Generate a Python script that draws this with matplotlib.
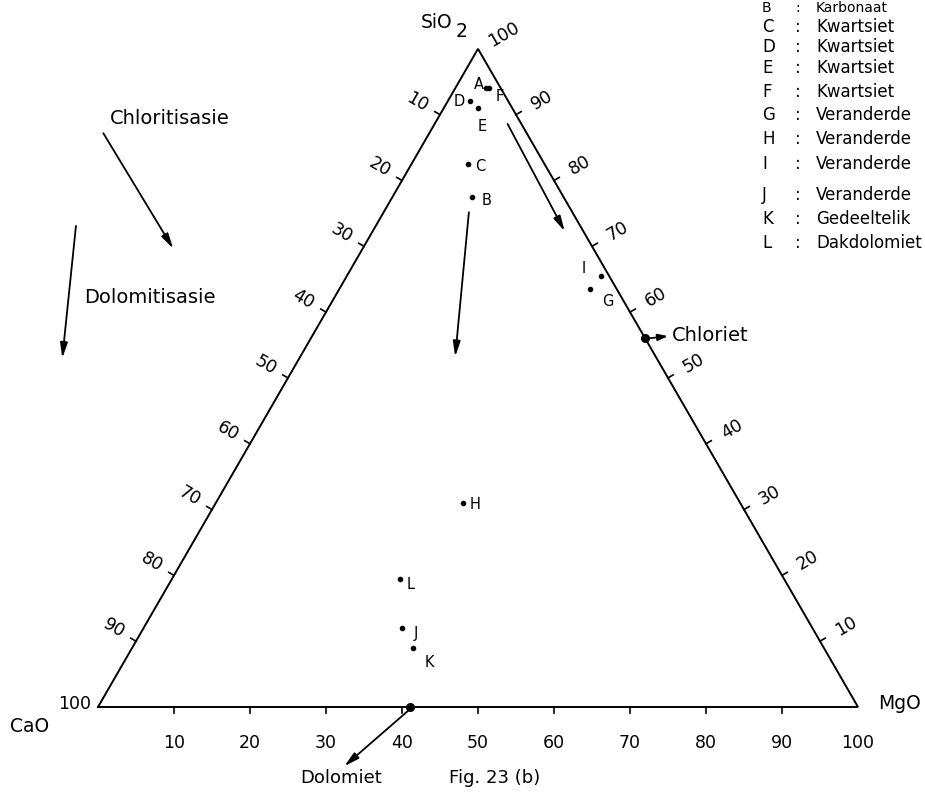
import numpy as np
import matplotlib
matplotlib.use('Agg')
import matplotlib.pyplot as plt

plt.rcParams['font.family'] = ['DejaVu Sans']

# Sample compositions (wt %)
samples = ['A', 'B', 'C', 'D', 'E', 'F', 'G', 'H', 'I', 'J', 'K', 'L']
sio2 = [94, 77.5, 82.5, 92, 91, 94, 63.5, 31, 65.5, 12, 9, 19.5]
cao = [2, 12, 10, 5, 4.5, 1.5, 3.5, 36.5, 1, 54, 54, 50.5]
mgo = [4, 10.5, 7.5, 3, 4.5, 4.5, 33, 32.5, 33.5, 34, 37, 30]

# End members on the edges
end_names = ['Chloriet', 'Dolomiet']
end_sio2 = [56, 0]
end_cao = [0, 59]
end_mgo = [44, 41]

# Legend (top right)
legend_keys = ['B', 'C', 'D', 'E', 'F', 'G', 'H', 'I', 'J', 'K', 'L']
legend_rocks = ['Karbonaat', 'Kwartsiet', 'Kwartsiet', 'Kwartsiet', 'Kwartsiet',
                'Veranderde', 'Veranderde', 'Veranderde', 'Veranderde',
                'Gedeeltelik', 'Dakdolomiet']

tick_values = [10, 20, 30, 40, 50, 60, 70, 80, 90]
scale_labels = ['10', '20', '30', '40', '50', '60', '70', '80', '90', '100']

# label offsets of the sample letters (pixels)
label_offset = {'A': (-7, 4), 'B': (14, -4), 'C': (12, -2), 'D': (-11, 0),
                'E': (4, -18), 'F': (10, -8), 'G': (18, -12), 'H': (12, -2),
                'I': (-18, 7), 'J': (14, -5), 'K': (16, -15), 'L': (11, -6)}

S3 = np.sqrt(3) / 2


def tern(si, ca, mg):
    si, ca, mg = np.asarray(si, float), np.asarray(ca, float), np.asarray(mg, float)
    tot = si + ca + mg
    return (mg + si / 2) / tot * 100, si / tot * 100 * S3


fig = plt.figure(figsize=(9.25, 7.95), dpi=100)
ax = fig.add_axes([0, 0, 1, 1])
ax.set_xlim(-98 / 7.6, (925 - 98) / 7.6)
ax.set_ylim(-88 / 7.6, 707 / 7.6)
ax.axis('off')

# triangle
ax.plot([0, 100, 50, 0], [0, 0, 100 * S3, 0], color='black', lw=1.4, solid_joinstyle='miter')

# ticks and scale labels
tl = 0.8
for v in tick_values:
    # bottom (MgO)
    ax.plot([v, v], [0, -tl], color='black', lw=1.2)
    # left edge (CaO)
    x0, y0 = (100 - v) / 2, (100 - v) * S3
    ax.plot([x0, x0 - S3 * tl], [y0, y0 + 0.5 * tl], color='black', lw=1.2)
    # right edge (SiO2)
    x1, y1 = 100 - v / 2, v * S3
    ax.plot([x1, x1 + S3 * tl], [y1, y1 + 0.5 * tl], color='black', lw=1.2)

for lab in scale_labels:
    v = int(lab)
    ax.text(v, -4.7, lab, ha='center', va='center', fontsize=12.5)
    x1, y1 = 100 - v / 2, v * S3
    ax.text(x1 + S3 * 3.9, y1 + 0.5 * 3.9, lab, ha='center', va='center',
            fontsize=12.5, rotation=30)
    if v < 100:
        x0, y0 = (100 - v) / 2, (100 - v) * S3
        ax.text(x0 - S3 * 3.4, y0 + 0.5 * 3.4, lab, ha='center', va='center',
                fontsize=12.5, rotation=-30)
ax.text(-0.9, 0.4, '100', ha='right', va='center', fontsize=12.5)

# apex / corner names
ax.text(44.5, 90.1, 'SiO', ha='center', va='center', fontsize=13.5)
ax.text(47.8, 88.9, '2', ha='center', va='center', fontsize=13.5)
ax.text(-11.6, -2.6, 'CaO', ha='left', va='center', fontsize=13.5)
ax.text(102.6, 0.5, 'MgO', ha='left', va='center', fontsize=13.5)

# samples
sx, sy = tern(sio2, cao, mgo)
ax.plot(sx, sy, 'o', color='black', ms=3)
for name, x, y in zip(samples, sx, sy):
    ax.annotate(name, (x, y), xytext=label_offset[name], textcoords='offset pixels',
                ha='center', va='center', fontsize=10.5)

# end members
ex, ey = tern(end_sio2, end_cao, end_mgo)
ax.plot(ex, ey, 'o', color='black', ms=5.5)

arrow = dict(arrowstyle='-|>,head_length=0.9,head_width=0.22', color='black',
             lw=1.3, shrinkA=0, shrinkB=0)
small_arrow = dict(arrowstyle='-|>,head_length=0.6,head_width=0.2', color='black',
                   lw=1.3, shrinkA=0, shrinkB=0)
ax.annotate('', xy=(75.0, 48.8), xytext=(ex[0] + 0.4, ey[0]), arrowprops=small_arrow)
ax.text(75.5, 48.9, end_names[0], ha='left', va='center', fontsize=14)
ax.annotate('', xy=(32.4, -7.8), xytext=(ex[1] - 0.2, ey[1] - 0.5), arrowprops=arrow)
ax.text(32.0, -9.4, end_names[1], ha='center', va='center', fontsize=13)
ax.text(52.2, -9.4, 'Fig. 23 (b)', ha='center', va='center', fontsize=13)

# trend arrows
ax.annotate('', xy=(47.0, 46.1), xytext=(48.8, 65.1), arrowprops=arrow)
ax.annotate('', xy=(61.4, 62.6), xytext=(53.9, 76.7), arrowprops=arrow)
ax.annotate('', xy=(9.9, 60.3), xytext=(0.7, 75.5), arrowprops=arrow)
ax.annotate('', xy=(-4.7, 45.9), xytext=(-2.9, 63.3), arrowprops=arrow)
ax.text(1.6, 77.5, 'Chloritisasie', ha='left', va='center', fontsize=14)
ax.text(-1.8, 53.9, 'Dolomitisasie', ha='left', va='center', fontsize=14)

# legend text; the first row sits right at the top edge
row_y = [0.5, 27, 47, 68, 92, 115, 139, 164, 195, 219, 243]
for key, rock, y in zip(legend_keys, legend_rocks, row_y):
    fy = 1 - y / 795
    first = key == 'B'
    fs = 10 if first else 12
    va = 'top' if first else 'center'
    fig.text(762 / 925, fy, key, ha='left', va=va, fontsize=fs)
    fig.text(795 / 925, fy, ':', ha='left', va=va, fontsize=fs)
    fig.text(816 / 925, fy, rock, ha='left', va=va, fontsize=fs)

fig.savefig('out.png', dpi=100)
